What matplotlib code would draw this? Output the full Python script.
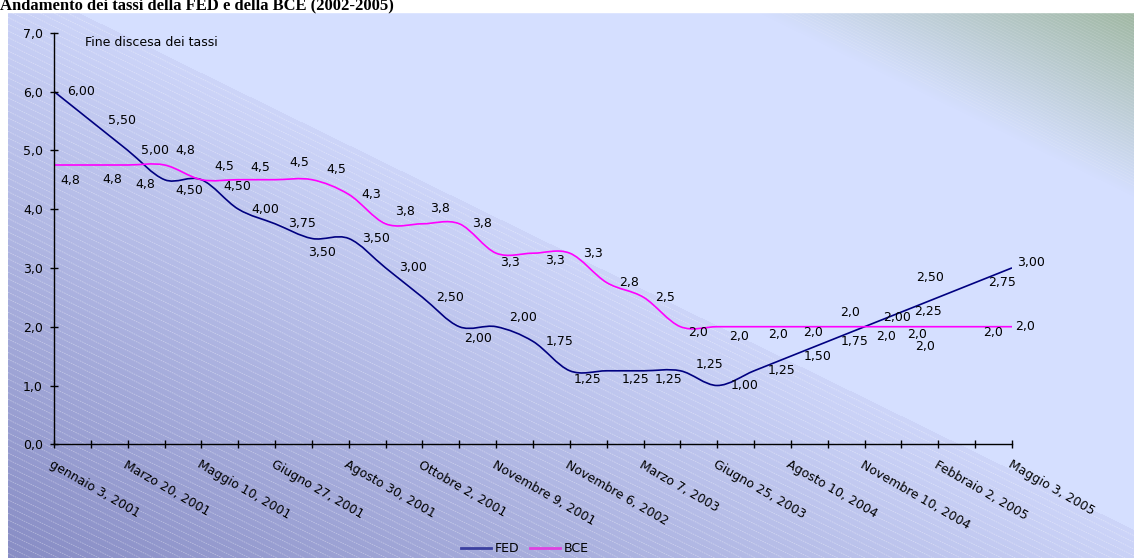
import matplotlib
matplotlib.use("Agg")
import matplotlib.pyplot as plt
import numpy as np
from matplotlib.path import Path
from matplotlib.patches import PathPatch
from matplotlib.lines import Line2D
from decimal import Decimal, ROUND_HALF_UP

# dates of every rate change (FED or BCE)
dates = [
    "gennaio 3, 2001", "Gennaio 31, 2001", "Marzo 20, 2001", "Aprile 18, 2001",
    "Maggio 10, 2001", "Maggio 15, 2001", "Giugno 27, 2001", "Agosto 21, 2001",
    "Agosto 30, 2001", "Settembre 17, 2001", "Ottobre 2, 2001", "Novembre 6, 2001",
    "Novembre 9, 2001", "Dicembre 11, 2001", "Novembre 6, 2002", "Dicembre 5, 2002",
    "Marzo 7, 2003", "Giugno 5, 2003", "Giugno 25, 2003", "Giugno 30, 2004",
    "Agosto 10, 2004", "Settembre 21, 2004", "Novembre 10, 2004", "Dicembre 14, 2004",
    "Febbraio 2, 2005", "Marzo 22, 2005", "Maggio 3, 2005",
]
fed = [6.00, 5.50, 5.00, 4.50, 4.50, 4.00, 3.75, 3.50, 3.50, 3.00, 2.50, 2.00, 2.00,
       1.75, 1.25, 1.25, 1.25, 1.25, 1.00, 1.25, 1.50, 1.75, 2.00, 2.25, 2.50, 2.75, 3.00]
bce = [4.75, 4.75, 4.75, 4.75, 4.50, 4.50, 4.50, 4.50, 4.25, 3.75, 3.75, 3.75, 3.25,
       3.25, 3.25, 2.75, 2.50, 2.00, 2.00, 2.00, 2.00, 2.00, 2.00, 2.00, 2.00, 2.00, 2.00]
y_ticks = [0, 1, 2, 3, 4, 5, 6, 7]

# label offsets in pixels (dx, dy down) as placed in the original
fed_off = [(27, 0), (31, 0), (27, 0), (25, 11), (36, 7), (27, 0), (27, 0), (10, 14), (27, 0),
           (27, 0), (28, 0), (19, 12), (27, -9), (27, 0), (18, 9), (29, 9), (25, 9), (29, -6),
           (27, 0), (27, 0), (27, 0), (27, 0), (32, -9), (27, 0), (-8, -20), (27, 0), (19, -5)]
bce_off = [(16, 15), (21, 14), (18, 19), (21, -15), (23, -13), (22, -12), (24, -17), (24, -10),
           (22, 0), (19, -12), (18, -15), (23, 0), (14, 9), (22, 7), (23, 0), (22, 0), (22, 0),
           (18, 6), (22, 10), (24, 8), (22, 6), (22, -14), (21, 10), (16, 8), (-13, 20), (18, 6),
           (13, 0)]

W, H = 1134, 558
fig = plt.figure(figsize=(W / 100, H / 100), dpi=100)

# background: diagonal gradient with hatching
bg = fig.add_axes([0, 0, 1, 1])
bg.set_axis_off()
yy, xx = np.mgrid[0:H, 0:W].astype(float)
s = yy - 0.49 * xx
dark = np.array([0x87, 0x8c, 0xc4]) / 255
light_a = np.array([0xcd, 0xd5, 0xf9]) / 255
light = np.array([0xd5, 0xdf, 0xff]) / 255
green = np.array([0x9c, 0xb5, 0x9c]) / 255
img = np.empty((H, W, 3))
t = np.clip((s + 26) / (558 + 26), 0, 1)[..., None]
img[:] = light_a + (dark - light_a) * t
mid = (s <= -26) & (s > -359)
img[mid] = light
t2 = np.clip((-359 - s) / (556 - 359), 0, 1)[..., None]
top = s <= -359
img[top] = (light + (green - light) * t2)[top]
img[:12, :] = 1.0
img[:, :8] = 1.0
bg.imshow(img, extent=(0, W, H, 0), aspect="auto", interpolation="nearest")
for c in np.arange(-20, 1200, 6.7):
    bg.plot([8, W], [0.49 * 8 + c, 0.49 * W + c], color="white", lw=0.6, alpha=0.35,
            ls=(0, (2, 1)))
for c in np.arange(-370, -900, -3.0):
    bg.plot([8, W], [0.49 * 8 + c, 0.49 * W + c], color="white", lw=0.4, alpha=0.18)
bg.add_patch(plt.Rectangle((0, 0), W, 12, color="white", zorder=5))
bg.set_xlim(0, W)
bg.set_ylim(H, 0)

# main chart
ax = fig.add_axes([54 / W, 1 - 444.3 / H, 958 / W, 411.6 / H])
ax.patch.set_alpha(0)
x = np.arange(len(dates))
ax.set_xlim(0, len(dates) - 1)
ax.set_ylim(0, 7)
for sp in ["top", "right"]:
    ax.spines[sp].set_visible(False)
for sp in ["left", "bottom"]:
    ax.spines[sp].set_color("black")
    ax.spines[sp].set_linewidth(1.0)


def smooth_path(xs, ys):
    pts = np.column_stack([xs, ys])
    n = len(pts)
    verts = [pts[0]]
    codes = [Path.MOVETO]
    for i in range(n - 1):
        p0 = pts[max(i - 1, 0)]
        p1 = pts[i]
        p2 = pts[i + 1]
        p3 = pts[min(i + 2, n - 1)]
        verts += [p1 + (p2 - p0) / 6, p2 - (p3 - p1) / 6, p2]
        codes += [Path.CURVE4] * 3
    return Path(verts, codes)


ax.add_patch(PathPatch(smooth_path(x, fed), fill=False, edgecolor="#000080", lw=1.2))
ax.add_patch(PathPatch(smooth_path(x, bce), fill=False, edgecolor="#ff00ff", lw=1.2))


def fmt(v, nd):
    q = Decimal(str(v)).quantize(Decimal(1).scaleb(-nd), rounding=ROUND_HALF_UP)
    return str(q).replace(".", ",")


for i, v in enumerate(fed):
    dx, dy = fed_off[i]
    ax.annotate(fmt(v, 2), (i, v), xytext=(dx * 0.72, -dy * 0.72), textcoords="offset points",
                ha="center", va="center", fontsize=9, color="black")
for i, v in enumerate(bce):
    dx, dy = bce_off[i]
    ax.annotate(fmt(v, 1), (i, v), xytext=(dx * 0.72, -dy * 0.72), textcoords="offset points",
                ha="center", va="center", fontsize=9, color="black")

ax.set_yticks(y_ticks)
ax.set_yticklabels([fmt(v, 1) for v in y_ticks], fontsize=9)
ax.set_xticks(x)
ax.set_xticklabels([d if i % 2 == 0 else "" for i, d in enumerate(dates)], fontsize=9,
                   rotation=-30, ha="left", va="top", rotation_mode="anchor")
ax.tick_params(axis="both", direction="inout", length=6, width=1, color="black")
ax.tick_params(axis="y", pad=5)
ax.tick_params(axis="x", pad=7)

fig.text(85 / W, 1 - 43 / H, "Fine discesa dei tassi", fontsize=9, va="center", ha="left")
fig.text(0, 1 - 9 / H, "Andamento dei tassi della FED e della BCE (2002-2005)",
         fontfamily="Liberation Serif", fontweight="bold", fontsize=12, va="baseline", ha="left")

handles = [Line2D([], [], color="#3a3f9f", lw=2), Line2D([], [], color="#e040e0", lw=2)]
fig.legend(handles, ["FED", "BCE"], loc="center", bbox_to_anchor=(525 / W, 1 - 549 / H),
           ncol=2, frameon=False, fontsize=9, handlelength=2.4, columnspacing=0.8,
           handletextpad=0.3)

fig.savefig("out.png", dpi=100)
